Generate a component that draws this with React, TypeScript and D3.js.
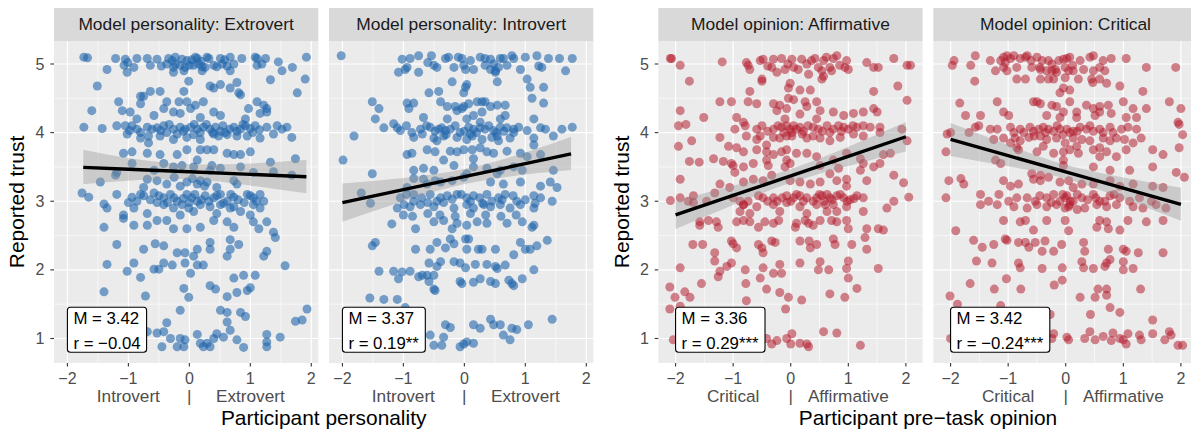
import React, { useRef, useEffect } from 'react';
import * as d3 from 'd3';

const WIDTH = 1191;
const HEIGHT = 432;
const FONT = 'Liberation Sans, Arial, Helvetica, sans-serif';

const panelTitles = [
  'Model personality: Extrovert',
  'Model personality: Introvert',
  'Model opinion: Affirmative',
  'Model opinion: Critical',
];
const meanLabels = ['M = 3.42', 'M = 3.37', 'M = 3.36', 'M = 3.42'];
const corrLabels = ['r = −0.04', 'r = 0.19**', 'r = 0.29***', 'r = −0.24***'];
const xTicks = [-2, -1, 0, 1, 2];
const xMinor = [-1.5, -0.5, 0.5, 1.5];
const yTicks = [1, 2, 3, 4, 5];
const yMinor = [1.5, 2.5, 3.5, 4.5];
const poleLabels = [
  ['Introvert', 'Extrovert'],
  ['Critical', 'Affirmative'],
];
const xTitles = ['Participant personality', 'Participant pre−task opinion'];
const yTitle = 'Reported trust';

// smooth fit: [x, fit, lower, upper]
const fitExtrovert = [
  [-1.74, 3.494, 3.25, 3.75],
  [-1, 3.466, 3.3, 3.63],
  [0, 3.429, 3.32, 3.54],
  [1, 3.391, 3.23, 3.55],
  [1.92, 3.357, 3.115, 3.6],
];
const fitIntrovert = [
  [-2, 2.98, 2.7, 3.26],
  [-1, 3.169, 3.0, 3.34],
  [0, 3.358, 3.25, 3.47],
  [1, 3.548, 3.39, 3.71],
  [1.75, 3.69, 3.455, 3.94],
];
const fitAffirmative = [
  [-2, 2.8, 2.595, 3.005],
  [-1, 3.085, 2.945, 3.225],
  [0, 3.37, 3.27, 3.47],
  [1, 3.655, 3.515, 3.795],
  [2, 3.94, 3.725, 4.155],
];
const fitCritical = [
  [-2, 3.9, 3.66, 4.14],
  [-1, 3.664, 3.51, 3.82],
  [0, 3.428, 3.33, 3.53],
  [1, 3.19, 3.035, 3.345],
  [2, 2.955, 2.715, 3.195],
];

// jittered responses: [participant score, reported trust]
const ptsExtrovert = [
  [-1.73,5.1],[-1.67,5.09],[-1.21,5.08],[-1.05,5.07],[-0.86,5.08],[-0.69,5.08],[-0.53,5.07],[-0.34,5.08],[-0.28,5.05],[-0.23,5.1],[-0.04,5.05],[0.04,5.06],[0.13,5.08],[0.29,5.1],[0.32,5.08],[0.51,5.08],[0.67,5.1],[0.86,5.08],[1.08,5.1],[1.11,5.08],[1.25,5.08],[1.92,5.1],
  [-1.07,4.98],[-1.01,5.02],[-0.91,4.95],[-0.64,4.98],[-0.37,5.0],[-0.26,4.95],[-0.15,4.98],[-0.07,4.95],[0.07,4.98],[0.15,5.0],[0.21,4.96],[0.26,4.95],[0.4,4.98],[0.45,4.96],[0.54,5.0],[0.62,4.97],[0.73,5.0],[1.11,4.98],[1.19,5.0],[1.46,5.03],[1.69,4.95],
  [-0.23,5.0],[-0.12,5.07],[0.0,4.98],[0.1,5.1],[0.19,5.04],[-0.46,4.97],[0.58,5.06],
  [-1.35,4.92],[-1.02,4.88],[-0.26,4.88],[-0.09,4.9],[0.21,4.9],[0.67,4.9],[1.52,4.9],
  [-1.51,4.68],[-0.01,4.75],[0.34,4.68],[0.4,4.65],[0.51,4.7],[0.67,4.65],[0.78,4.73],[1.33,4.77],[1.77,4.58],[1.9,4.78],[0.81,4.58],
  [-0.8,4.53],[-0.75,4.53],[-0.64,4.6],[-0.48,4.6],[-0.37,4.45],[-0.17,4.45],[-0.04,4.45],[-0.09,4.6],[0.1,4.4],[0.23,4.45],[0.84,4.55],[1.11,4.45],[1.22,4.4],[-1.16,4.45],[-0.42,4.35],[0.02,4.35],[0.97,4.35],[1.27,4.35],[-0.8,4.42],
  [-1.6,4.32],[-1.1,4.32],[-0.97,4.3],[-0.86,4.2],[-0.58,4.25],[-0.26,4.3],[-0.15,4.28],[0.18,4.22],[0.4,4.3],[0.51,4.25],[1.16,4.28],[1.27,4.3],[0.92,4.2],
  [-1.73,4.08],[-1.43,4.06],[-1.19,4.1],[-1.05,4.1],[-0.94,4.1],[-0.86,4.05],[-0.69,4.08],[-0.61,4.05],[-0.53,4.07],[-0.42,4.1],[-0.26,4.05],[-0.15,4.08],[-0.07,4.05],[0.02,4.08],[0.13,4.05],[0.23,4.08],[0.34,4.05],[0.43,4.08],[0.51,4.02],[0.59,4.0],[0.73,4.08],[0.84,4.05],[0.92,4.1],[1.0,4.06],[1.08,4.1],[1.27,4.08],[1.44,4.1],[1.6,4.08],[1.52,4.05],
  [-0.47,4.03],[-0.33,4.12],[-0.1,4.02],[0.08,4.12],[0.18,4.0],[0.28,4.12],[0.38,4.0],[0.55,4.1],[0.66,4.05],[0.78,4.02],[0.88,4.12],[1.04,4.0],[1.15,4.04],[-0.8,4.0],[-0.98,4.03],
  [-1.02,3.98],[-0.8,3.92],[-0.67,3.95],[-0.48,3.95],[-0.37,4.0],[-0.2,3.98],[-0.04,3.93],[0.07,3.97],[0.4,3.98],[0.48,3.95],[0.62,3.97],[0.78,3.95],[0.95,3.95],[1.16,3.92],[1.38,3.98],[1.68,3.93],[-0.67,3.85],[-0.26,3.9],[0.18,3.9],
  [-1.08,3.7],[-0.94,3.72],[-0.69,3.7],[-0.48,3.68],[-0.2,3.68],[-0.04,3.75],[0.13,3.6],[0.29,3.75],[0.4,3.75],[0.62,3.7],[0.73,3.68],[1.0,3.72],[1.33,3.57],[1.74,3.62],[0.84,3.68],[0.18,3.75],
  [-0.94,3.55],[-0.42,3.55],[-0.26,3.5],[-0.12,3.52],[0.07,3.5],[0.37,3.52],[0.51,3.48],[0.84,3.5],[1.05,3.42],[1.38,3.43],[1.68,3.38],[-1.19,3.42],[-1.21,3.38],[-0.58,3.45],[0.34,3.45],
  [-1.46,3.28],[-0.69,3.32],[-0.53,3.3],[-0.37,3.25],[-0.15,3.22],[0.18,3.3],[0.13,3.25],[0.29,3.28],[0.73,3.3],[0.78,3.25],[-0.75,3.2],[-0.04,3.28],[0.45,3.2],[0.25,3.22],[0.05,3.33],[-0.25,3.35],
  [-1.76,3.12],[-1.65,3.06],[-1.19,3.1],[-0.94,3.06],[-0.8,3.1],[-0.75,3.08],[-0.58,3.12],[-0.42,3.05],[-0.31,3.1],[-0.2,3.0],[-0.04,3.1],[0.04,3.05],[0.13,3.0],[0.26,3.08],[0.4,3.05],[0.51,3.1],[0.62,3.0],[0.73,3.06],[0.95,3.1],[1.05,3.05],[1.16,3.1],[1.22,3.0],
  [-0.64,3.02],[-0.5,3.08],[-0.36,2.98],[-0.25,3.05],[-0.1,3.04],[0.0,2.98],[0.09,3.1],[0.2,3.02],[0.32,3.0],[0.45,3.08],[0.56,2.97],[0.68,3.1],[0.8,3.02],[0.9,2.98],[1.0,3.08],[1.1,3.0],[-0.86,3.0],[-1.0,2.98],
  [-1.4,2.96],[-1.35,2.9],[-0.91,2.9],[-0.53,2.98],[-0.42,2.95],[-0.26,2.9],[-0.12,2.95],[-0.01,2.9],[0.18,2.95],[0.34,2.92],[0.51,2.95],[0.67,2.9],[0.73,2.92],[1.05,2.95],[1.16,2.9],[-1.08,2.8],[-0.69,2.82],[-0.15,2.8],[0.07,2.85],[0.45,2.82],[0.84,2.85],[1.0,2.8],
  [-1.4,2.62],[-1.08,2.75],[-0.91,2.65],[-0.69,2.65],[-0.53,2.72],[-0.37,2.72],[-0.26,2.6],[-0.04,2.6],[0.18,2.62],[0.4,2.72],[0.62,2.7],[0.73,2.62],[1.05,2.7],[1.14,2.6],[1.27,2.7],[1.38,2.55],
  [-1.19,2.37],[-0.75,2.3],[-0.56,2.38],[-0.42,2.35],[-0.2,2.25],[-0.07,2.25],[0.07,2.2],[0.13,2.3],[0.34,2.3],[0.34,2.4],[0.67,2.3],[0.81,2.37],[0.67,2.44],[1.27,2.27],[1.22,2.2],[1.41,2.47],
  [-1.35,2.08],[-1.02,1.98],[-0.91,2.1],[-0.58,2.01],[-0.5,2.01],[-0.42,2.1],[-0.28,2.07],[-0.07,2.1],[0.02,1.95],[0.13,2.07],[0.23,2.07],[0.62,2.2],[1.57,2.06],
  [-1.4,1.68],[-0.8,1.89],[-0.72,1.62],[-0.09,1.73],[-0.01,1.6],[0.34,1.77],[0.43,1.72],[0.73,1.88],[0.89,1.92],[1.08,1.92],[0.62,1.61],[0.78,1.67],[0.95,1.7],[1.0,1.74],
  [-0.15,1.41],[0.51,1.41],[0.62,1.38],[0.84,1.38],[0.92,1.32],[1.93,1.43],[1.74,1.25],[1.85,1.27],[-0.37,1.23],[0.62,1.24],
  [-0.69,1.1],[-0.53,1.08],[-0.42,1.1],[-0.31,1.0],[-0.15,1.0],[-0.07,0.98],[0.13,1.06],[0.18,0.93],[0.29,0.93],[0.4,1.0],[0.45,1.07],[0.56,1.02],[0.67,1.12],[0.78,0.98],[1.27,1.06],[1.27,0.95],[1.49,1.02],[-0.45,0.88],[-0.2,0.88],[-0.09,0.88],[0.23,0.88],[0.34,0.88],[0.89,0.87],[1.27,0.88],
];

const ptsIntrovert = [
  [-2.02,5.12],[-0.75,5.12],[-0.54,5.12],[-0.26,5.1],[0.26,5.1],[0.34,5.08],[0.59,5.08],[0.78,5.12],[1.0,5.1],[1.19,5.12],[1.38,5.08],[1.56,5.08],[1.77,5.08],[-1.02,5.07],[-0.89,5.08],[-0.31,5.08],[-0.04,5.08],[0.43,5.07],[0.64,5.08],[0.81,5.08],
  [-1.08,4.88],[-0.94,4.95],[-0.75,4.88],[-0.5,4.98],[-0.45,4.95],[-0.17,4.95],[-0.01,4.98],[0.02,4.92],[0.15,4.92],[0.34,4.98],[0.43,4.92],[0.51,4.9],[0.56,4.95],[0.92,4.92],[1.22,4.97],[1.27,4.95],[1.66,4.9],[-0.97,4.92],[0.51,4.88],
  [-0.1,5.1],[0.1,5.05],[0.48,5.0],[0.7,4.98],[-0.6,5.02],
  [-0.2,4.74],[0.04,4.7],[0.02,4.66],[0.54,4.74],[1.03,4.78],[1.08,4.66],[1.3,4.66],[-0.58,4.58],[-0.42,4.6],[-0.01,4.58],
  [-1.51,4.45],[-0.94,4.43],[-0.83,4.43],[-0.39,4.45],[-0.28,4.38],[-0.15,4.38],[-0.01,4.38],[0.07,4.42],[0.21,4.45],[0.29,4.45],[0.34,4.45],[0.43,4.38],[0.54,4.4],[0.67,4.4],[1.11,4.5],[1.3,4.43],[-1.4,4.35],[-0.91,4.35],[-0.12,4.32],[-0.04,4.35],[0.29,4.3],
  [-1.46,4.2],[-1.32,4.07],[-1.16,4.13],[-0.67,4.22],[-0.28,4.2],[0.04,4.2],[0.26,4.15],[0.59,4.2],[0.67,4.25],[1.14,4.2],[0.15,4.25],
  [-1.1,4.07],[-1.05,4.03],[-0.86,4.0],[-0.72,4.05],[-0.56,4.08],[-0.48,4.02],[-0.42,4.05],[-0.37,4.07],[-0.31,4.03],[-0.23,4.05],[-0.07,4.0],[0.07,4.08],[0.15,4.05],[0.26,4.07],[0.34,4.05],[0.48,4.03],[0.59,4.08],[0.7,4.07],[0.81,4.05],[0.89,4.08],[1.03,4.03],[1.25,4.07],[1.33,4.05],[1.6,4.05],[1.77,4.08],[0.81,4.0],
  [-0.62,4.1],[-0.15,4.1],[0.0,4.02],[0.2,4.0],[0.4,4.1],[0.52,4.0],[0.65,4.02],[-0.95,4.1],[-0.3,3.97],[0.1,3.98],
  [-1.81,3.95],[-0.83,3.93],[-0.69,3.98],[-0.5,3.92],[-0.34,3.95],[-0.12,3.93],[0.13,3.95],[0.29,3.9],[0.45,3.93],[0.54,3.95],[0.75,3.92],[1.14,3.92],[1.46,3.95],[-0.45,3.88],[0.04,3.9],[0.56,3.88],[1.14,3.82],
  [-0.94,3.68],[-0.86,3.7],[-0.48,3.72],[-0.23,3.73],[-0.01,3.75],[0.13,3.75],[0.26,3.78],[0.48,3.7],[0.7,3.73],[0.92,3.7],[1.25,3.68],[-0.61,3.75],[-0.12,3.72],[0.37,3.72],[1.03,3.65],[-0.34,3.6],[0.15,3.62],
  [-1.99,3.6],[-1.51,3.4],[-0.83,3.45],[-0.67,3.48],[-0.5,3.45],[-0.17,3.52],[0.15,3.5],[0.37,3.48],[0.59,3.45],[0.81,3.5],[0.95,3.45],[1.46,3.45],[0.04,3.4],[0.54,3.4],
  [-0.83,3.33],[-0.67,3.32],[-0.48,3.3],[-0.39,3.28],[-0.2,3.3],[-0.01,3.35],[0.43,3.28],[0.64,3.25],[0.92,3.28],[1.25,3.22],[1.41,3.28],[1.52,3.2],[-0.94,3.2],[-0.61,3.25],
  [-1.69,3.12],[-0.83,3.1],[-0.56,3.1],[-0.39,3.05],[-0.28,3.08],[-0.12,3.1],[0.04,3.05],[0.15,3.08],[0.37,3.1],[0.56,3.05],[0.67,3.1],[0.86,3.0],[1.14,3.08],[1.25,3.05],[1.44,3.0],[-1.05,3.05],[-0.83,3.0],
  [-0.7,3.05],[-0.45,3.0],[-0.2,3.03],[-0.05,3.1],[0.1,3.0],[0.25,3.05],[0.45,3.0],[0.62,3.02],[0.8,3.08],[1.0,3.02],[-0.95,3.1],[-0.6,2.98],[0.3,2.97],
  [-1.54,2.97],[-1.1,2.9],[-0.99,2.95],[-0.89,2.92],[-0.72,2.95],[-0.5,2.92],[-0.34,2.98],[-0.17,2.9],[0.04,2.95],[0.15,2.9],[0.32,2.95],[0.43,2.92],[0.59,2.95],[0.75,2.9],[0.92,2.95],[1.14,2.9],[1.16,2.97],
  [-1.0,2.8],[-0.85,2.78],[-0.6,2.82],[-0.4,2.8],[-0.15,2.78],[0.1,2.82],[0.35,2.8],[0.6,2.78],[0.85,2.8],
  [-1.19,2.67],[-0.8,2.6],[-0.5,2.7],[-0.34,2.72],[-0.12,2.68],[0.21,2.7],[0.37,2.68],[0.7,2.68],[0.95,2.7],[1.11,2.62],[1.14,2.65],[-0.2,2.6],[0.04,2.65],
  [-1.51,2.35],[-1.46,2.4],[-0.8,2.3],[-0.56,2.3],[-0.45,2.4],[-0.31,2.32],[-0.17,2.38],[0.02,2.45],[0.07,2.45],[0.04,2.3],[0.23,2.3],[0.29,2.3],[0.51,2.3],[0.81,2.22],[0.92,2.4],[1.0,2.3],[1.08,2.3],[1.19,2.35],[1.36,2.43],[-0.23,2.45],
  [-1.4,1.98],[-1.16,1.98],[-1.02,1.97],[-0.89,1.98],[-0.58,2.1],[-0.45,2.05],[-0.39,2.12],[-0.17,2.12],[-0.07,2.1],[0.02,2.03],[0.18,2.08],[0.37,2.08],[0.51,2.05],[0.54,2.02],[0.67,2.07],[1.14,2.0],[-0.75,1.9],[-0.69,1.92],[-0.61,1.92],[-0.5,1.92],
  [-1.08,1.87],[-0.58,1.83],[-0.5,1.72],[-0.48,1.7],[-0.07,1.83],[-0.04,1.8],[0.15,1.82],[0.26,1.87],[0.43,1.83],[0.51,1.8],[0.73,1.85],[0.78,1.8],[0.81,1.77],[0.95,1.87],[-1.55,1.59],[-1.32,1.57],[-1.1,1.57],
  [0.43,1.28],[0.48,1.2],[0.59,1.2],[0.15,1.2],[0.26,1.15],[-0.31,1.2],[-0.23,1.16],[1.05,1.2],[1.44,1.28],[0.78,1.15],[0.86,1.13],[-0.97,1.45],
  [-0.72,1.0],[-0.56,1.05],[-0.5,0.9],[-0.37,0.9],[-0.34,1.02],[-0.07,0.88],[-0.01,0.92],[0.04,0.95],[0.15,0.93],[0.75,0.98],[0.64,1.05],
];

const ptsAffirmative = [
  [-2.09,5.08],[-2.07,5.08],[-1.92,4.98],[-1.19,5.03],[-0.77,5.02],[-0.53,5.05],[-0.48,5.07],[-0.3,5.07],[-0.16,5.08],[0.02,5.07],[0.19,5.07],[0.42,5.08],[0.57,5.05],[0.74,5.08],[0.8,5.12],[0.97,5.05],[1.32,5.02],[1.79,5.08],[2.02,4.98],[2.08,4.98],
  [-0.74,4.98],[-0.71,4.92],[-0.33,4.95],[-0.24,4.88],[-0.1,4.92],[0.05,4.95],[0.13,4.92],[0.28,5.0],[0.48,4.95],[0.54,4.9],[0.68,4.95],[0.71,4.9],[0.94,4.95],[1.0,4.92],[1.44,4.95],[1.52,4.95],[0.31,4.85],[0.57,4.82],
  [-0.4,4.97],[-0.05,5.0],[0.36,5.05],[0.62,5.1],[0.85,4.98],
  [-1.76,4.75],[-0.5,4.75],[-0.01,4.72],[-0.04,4.65],[0.16,4.62],[0.34,4.62],[0.54,4.78],[1.44,4.6],[1.86,4.68],[-0.71,4.6],[-0.5,4.78],
  [-1.23,4.45],[-1.03,4.45],[-0.74,4.45],[-0.59,4.42],[-0.3,4.42],[-0.19,4.4],[-0.04,4.5],[0.05,4.48],[0.25,4.45],[0.28,4.38],[0.45,4.45],[2.02,4.47],[1.44,4.35],[-0.24,4.32],[-0.07,4.35],[0.51,4.32],
  [-1.92,4.32],[-1.51,4.22],[-0.94,4.22],[-0.82,4.15],[0.16,4.27],[0.45,4.2],[0.74,4.3],[0.92,4.25],[1.09,4.28],[1.26,4.3],[1.5,4.3],[-1.95,4.1],[-1.82,4.12],[-0.1,4.2],
  [-0.97,4.05],[-0.79,4.1],[-0.59,4.05],[-0.5,4.1],[-0.3,4.05],[-0.16,4.08],[-0.07,4.1],[-0.01,4.05],[0.05,4.1],[0.1,4.05],[0.16,4.08],[0.39,4.08],[0.48,4.05],[0.63,4.1],[0.74,4.05],[0.83,4.1],[0.92,4.08],[1.0,4.05],[1.15,4.08],[1.26,4.1],[1.38,4.08],[1.55,4.08],[1.93,4.05],[1.55,4.0],
  [-0.4,4.02],[-0.22,4.1],[0.02,4.0],[0.22,4.02],[0.3,4.1],[0.55,4.02],[0.68,4.0],[0.88,4.02],[1.08,4.1],[-0.12,4.0],[0.2,3.98],
  [-1.95,3.8],[-1.72,3.88],[-1.23,3.93],[-1.08,3.8],[-0.94,3.78],[-0.77,3.95],[-0.53,3.95],[-0.42,3.82],[-0.3,3.93],[-0.19,3.92],[-0.07,3.95],[0.02,3.95],[0.28,3.92],[0.39,3.95],[0.51,3.92],[0.68,3.88],[0.86,3.93],[1.09,3.98],[1.26,3.95],[2.02,3.88],[-0.59,3.9],
  [-1.0,3.52],[-0.82,3.72],[-0.59,3.75],[-0.42,3.72],[-0.3,3.68],[-0.16,3.72],[-0.07,3.75],[0.1,3.7],[0.28,3.7],[0.45,3.65],[0.74,3.6],[0.97,3.7],[1.21,3.62],[1.61,3.68],[1.73,3.7],[1.55,3.55],[-0.42,3.6],[-0.07,3.6],
  [-1.76,3.58],[-1.59,3.57],[-1.34,3.62],[-1.17,3.58],[-1.03,3.55],[-0.82,3.5],[-0.65,3.55],[-0.39,3.52],[-0.1,3.5],[-0.01,3.55],[0.51,3.52],[0.68,3.4],[0.83,3.48],[1.26,3.55],[1.44,3.5],[1.21,3.45],[-0.97,3.42],
  [-1.92,3.32],[-1.23,3.25],[-1.06,3.2],[-0.82,3.28],[-0.65,3.32],[-0.48,3.3],[-0.33,3.38],[-0.01,3.3],[0.16,3.28],[0.34,3.25],[0.51,3.28],[0.8,3.3],[0.97,3.32],[1.32,3.3],[1.79,3.38],[1.96,3.27],[-1.32,3.12],[0.97,3.22],
  [-2.09,3.01],[-1.92,3.05],[-1.78,3.0],[-1.69,3.08],[-1.46,3.0],[-1.0,3.05],[-0.88,3.0],[-0.82,2.95],[-0.74,3.0],[-0.56,3.08],[-0.48,3.05],[-0.3,3.05],[-0.24,3.0],[-0.07,3.08],[0.05,3.05],[0.16,3.08],[0.28,3.05],[0.39,3.0],[0.54,3.08],[0.63,3.1],[0.68,3.05],[0.8,3.08],[0.92,3.05],[1.03,3.02],[1.15,3.08],[1.26,3.05],[1.79,3.0],[2.05,3.06],
  [-0.4,3.0],[-0.15,3.05],[0.0,3.0],[0.1,3.1],[0.22,3.0],[0.45,3.05],[0.58,3.0],[0.72,3.02],[0.86,3.1],[0.98,3.0],[1.1,3.04],[0.6,2.95],[0.5,3.1],
  [-1.69,2.98],[-0.82,2.95],[-0.59,2.92],[-0.3,2.95],[-0.07,2.98],[0.16,2.92],[0.45,2.95],[0.74,2.95],[0.97,2.92],[1.26,2.85],[-0.88,2.85],[-0.71,2.82],[-0.19,2.85],[0.28,2.82],[0.63,2.85],[0.8,2.85],[1.67,2.9],
  [-1.58,2.7],[-1.43,2.72],[-1.29,2.7],[-1.58,2.65],[-1.26,2.62],[-0.94,2.7],[-0.82,2.72],[-0.71,2.7],[-0.56,2.62],[-0.45,2.7],[-0.3,2.68],[-0.21,2.72],[0.08,2.62],[0.1,2.68],[0.25,2.72],[0.31,2.68],[0.39,2.65],[0.51,2.72],[0.71,2.72],[0.8,2.7],[0.97,2.72],[1.0,2.6],[1.32,2.6],[1.52,2.6],[1.61,2.58],
  [-1.7,2.37],[-1.53,2.37],[-1.32,2.25],[-1.03,2.42],[-1.0,2.38],[-0.94,2.32],[-0.56,2.37],[-0.5,2.32],[-0.48,2.25],[-0.33,2.42],[-0.27,2.4],[0.16,2.42],[0.32,2.42],[0.34,2.32],[0.45,2.37],[0.74,2.45],[0.77,2.37],[1.06,2.37],[1.29,2.47],[1.32,2.3],
  [-1.92,2.03],[-1.32,2.13],[-1.23,1.98],[-1.11,2.05],[-1.03,2.1],[-0.79,2.0],[-0.48,2.03],[-0.3,1.95],[-0.19,2.08],[-0.16,1.95],[0.16,2.1],[0.51,2.12],[0.48,2.0],[0.66,2.0],[0.97,2.02],[1.0,2.13],[1.52,2.02],[-1.26,1.9],
  [-2.1,1.75],[-1.84,1.68],[-1.75,1.6],[-2.01,1.6],[-1.55,1.8],[-0.78,1.8],[-0.77,1.55],[-0.42,1.72],[-0.19,1.67],[-0.04,1.6],[0.19,1.56],[0.68,1.65],[0.94,1.6],[1.0,1.88],[1.15,1.73],[-0.53,1.88],
  [-2.1,1.43],[-0.09,1.43],[-1.92,1.47],
  [-2.04,0.98],[-0.33,0.92],[-0.24,0.97],[-0.07,1.0],[0.02,1.07],[0.0,0.92],[0.16,0.93],[0.28,0.92],[0.31,0.88],[0.57,1.1],[0.8,1.08],[1.21,0.9],[-0.65,0.98],[-0.42,1.0],[-0.88,0.95],
];

const ptsCritical = [
  [-1.94,5.05],[-1.57,5.12],[-1.31,5.05],[-1.13,5.05],[-1.08,5.1],[-1.02,5.12],[-0.96,5.08],[-0.79,5.08],[-0.7,5.1],[-0.67,5.12],[-0.5,5.1],[-0.41,5.05],[-0.3,5.05],[-0.24,5.0],[-0.04,5.07],[0.02,5.08],[0.07,5.1],[0.25,5.05],[0.42,5.1],[0.48,5.12],[0.65,5.05],[0.79,5.08],[1.05,5.08],
  [-1.97,4.98],[-1.65,4.98],[-1.22,4.9],[-1.08,4.95],[-1.02,4.9],[-0.85,4.95],[-0.59,4.95],[-0.44,4.92],[-0.33,4.9],[-0.24,4.9],[-0.18,4.92],[-0.16,4.88],[-0.01,4.95],[0.05,4.9],[0.13,4.9],[0.31,4.92],[0.48,4.9],[0.59,4.95],[0.68,4.9],[1.4,4.95],[1.91,4.95],
  [-1.05,5.02],[-0.9,5.12],[-0.6,5.05],[-0.45,4.95],[-0.12,5.05],[0.12,4.98],
  [-1.58,4.75],[-0.85,4.78],[-0.7,4.78],[-0.44,4.78],[-0.3,4.78],[-0.21,4.78],[-0.01,4.8],[0.22,4.78],[0.45,4.78],[0.59,4.78],[0.71,4.72],[0.47,4.73],[0.94,4.68],[1.34,4.6],
  [-0.04,4.65],[-0.1,4.58],[0.07,4.62],[-0.56,4.45],[-0.44,4.42],
  [-1.84,4.43],[-1.19,4.45],[-0.5,4.45],[-0.24,4.4],[-0.16,4.38],[0.07,4.45],[0.36,4.4],[0.48,4.35],[0.59,4.38],[0.74,4.4],[1.0,4.45],[1.17,4.35],[1.4,4.35],[1.8,4.45],[2.0,4.35],[0.79,4.28],
  [-1.74,4.25],[-1.48,4.25],[-1.08,4.3],[-0.99,4.25],[-0.33,4.25],[-0.1,4.22],[-0.04,4.3],[0.19,4.3],[0.19,4.22],[0.51,4.25],[0.59,4.3],[1.05,4.22],[1.23,4.22],[1.95,4.15],[1.97,4.12],
  [-1.57,4.08],[-1.51,4.1],[-1.31,4.05],[-1.19,4.05],[-0.96,4.08],[-0.79,4.05],[-0.73,4.0],[-0.56,4.02],[-0.47,4.05],[-0.39,4.08],[-0.3,4.05],[-0.21,4.02],[-0.1,4.05],[0.02,4.05],[0.13,4.02],[0.25,4.08],[0.36,4.05],[0.48,4.02],[0.59,4.05],[0.77,4.08],[0.82,4.0],[0.97,4.05],[1.08,4.08],[1.23,4.05],[-2.06,3.98],[-2.0,4.0],[-1.68,4.0],[2.03,3.97],
  [-0.9,4.0],[-0.62,4.08],[-0.35,4.0],[-0.15,4.1],[0.07,4.0],[0.2,4.02],[0.42,4.1],[0.65,4.0],[-0.05,3.97],[-0.55,3.95],
  [-1.25,3.9],[-1.08,3.92],[-0.96,3.85],[-0.88,3.92],[-0.79,3.88],[-0.64,3.93],[-0.44,3.95],[-0.33,3.9],[-0.16,3.92],[-0.01,3.85],[0.13,3.92],[0.28,3.9],[0.42,3.88],[0.65,3.92],[0.77,3.88],[0.88,3.92],[1.02,3.9],[1.17,3.85],[1.31,3.92],[1.97,3.78],[-0.85,3.78],[-0.39,3.8],[0.19,3.8],[0.59,3.78],
  [-2.08,3.72],[-0.82,3.75],[-0.5,3.72],[-0.21,3.7],[-0.04,3.72],[0.07,3.75],[0.22,3.7],[0.48,3.75],[0.71,3.72],[1.05,3.75],[1.51,3.75],[1.69,3.68],[0.59,3.65],[0.88,3.65],[-1.22,3.6],[-0.04,3.6],
  [-0.04,3.52],[0.48,3.5],[1.11,3.45],[1.51,3.5],[0.77,3.45],[1.92,3.42],[2.06,3.35],[-1.13,3.55],[-0.59,3.4],[-0.44,3.38],
  [-2.03,3.3],[-1.82,3.33],[-1.77,3.25],[-1.08,3.3],[-0.96,3.22],[-0.82,3.25],[-0.56,3.32],[-0.44,3.3],[-0.3,3.35],[-0.1,3.28],[0.05,3.3],[0.13,3.2],[0.28,3.25],[0.48,3.25],[0.77,3.3],[0.94,3.22],[1.17,3.25],[1.51,3.22],[1.69,3.2],
  [-2.08,3.05],[-1.48,3.1],[-1.34,3.0],[-1.16,3.1],[-0.99,3.0],[-0.85,3.05],[-0.67,3.05],[-0.53,3.0],[-0.33,3.05],[-0.21,3.1],[-0.1,3.0],[-0.01,3.05],[0.02,3.08],[0.13,3.0],[0.28,3.05],[0.48,3.1],[0.59,3.0],[0.77,3.08],[0.94,3.05],[1.11,3.0],[1.28,3.05],[1.49,3.0],
  [-0.45,3.08],[-0.25,2.98],[-0.05,3.1],[0.08,3.0],[0.2,3.1],[0.38,3.02],[0.52,3.05],[0.68,3.0],[0.84,3.1],[0.05,2.92],[0.2,2.88],
  [-1.48,2.95],[-1.19,2.95],[-0.9,2.92],[-0.67,2.9],[-0.5,2.95],[-0.33,2.92],[-0.16,2.95],[-0.01,2.9],[0.07,2.95],[0.33,2.9],[0.54,2.95],[0.71,2.92],[0.88,2.95],[1.17,2.92],[1.34,2.9],[1.57,2.95],[1.74,2.9],
  [-1.91,2.57],[-1.08,2.72],[-0.79,2.7],[-0.7,2.72],[-0.56,2.58],[-0.33,2.72],[-0.01,2.72],[0.05,2.57],[0.54,2.62],[0.71,2.7],[0.74,2.6],[0.94,2.58],[1.08,2.72],[1.4,2.7],[1.69,2.72],[0.59,2.72],
  [-1.6,2.43],[-1.45,2.33],[-1.25,2.37],[-1.02,2.43],[-0.82,2.4],[-0.7,2.4],[-0.53,2.4],[-0.64,2.33],[-0.36,2.42],[-0.41,2.27],[-0.21,2.27],[-0.07,2.37],[0.31,2.4],[0.33,2.27],[0.74,2.3],[1.0,2.3],[1.05,2.27],[1.26,2.25],[1.69,2.25],[-1.05,2.45],
  [-1.55,2.13],[-1.28,2.1],[-0.82,2.1],[-0.79,2.03],[-0.41,2.02],[-0.06,2.03],[0.28,2.12],[0.31,2.03],[0.48,2.02],[0.68,2.05],[0.71,2.1],[0.77,2.15],[1.0,2.12],[1.0,2.0],[1.17,2.02],
  [-1.66,1.8],[-1.24,1.72],[-1.03,1.87],[-0.78,1.72],[-0.2,1.78],[-0.06,1.85],[0.56,1.72],[0.71,1.72],[0.71,1.63],[1.3,1.72],[0.25,1.6],[0.51,1.6],[-2.01,1.62],[-1.88,1.5],
  [-1.13,1.48],[0.77,1.45],[0.94,1.38],[0.43,1.35],[1.51,1.27],[-0.27,1.35],
  [-0.21,1.07],[0.02,1.02],[0.05,0.98],[0.33,1.0],[0.51,0.98],[0.65,1.03],[0.79,0.97],[0.82,1.08],[0.94,1.0],[1.0,0.98],[1.05,0.92],[1.08,1.07],[1.28,1.05],[1.31,0.98],[1.51,1.07],[1.72,0.98],[1.8,1.1],[1.83,1.05],[1.95,0.9],[2.03,0.9],[0.42,1.1],[-0.24,1.0],[-2.0,1.0],
];

const BLUE = '#2166AC';
const RED = '#B2182B';

const STRIP_TOP = 8;
const PANEL_TOP = 41;
const PANEL_BOTTOM = 363;
const PANEL_W = 264.3;
const panelLefts = [54, 329, 658.3, 933.3];
const groupDomains = [
  [-2.22, 2.115],
  [-2.3, 2.29],
];
const yDomain = [0.643, 5.335];

const App = () => {
  const svgRef = useRef<SVGSVGElement>(null);

  useEffect(() => {
    if (!svgRef.current) return;
    const svg = d3.select(svgRef.current);
    svg.selectAll('*').remove();

    const y = d3.scaleLinear().domain(yDomain).range([PANEL_BOTTOM, PANEL_TOP]);

    const panels = [
      { pts: ptsExtrovert, fit: fitExtrovert, group: 0, color: BLUE, opacity: 0.6 },
      { pts: ptsIntrovert, fit: fitIntrovert, group: 0, color: BLUE, opacity: 0.6 },
      { pts: ptsAffirmative, fit: fitAffirmative, group: 1, color: RED, opacity: 0.52 },
      { pts: ptsCritical, fit: fitCritical, group: 1, color: RED, opacity: 0.52 },
    ];

    const defs = svg.append('defs');

    panels.forEach((p, i) => {
      const left = panelLefts[i];
      const x = d3.scaleLinear().domain(groupDomains[p.group]).range([left, left + PANEL_W]);
      const g = svg.append('g');

      defs
        .append('clipPath')
        .attr('id', `clip${i}`)
        .append('rect')
        .attr('x', left)
        .attr('y', PANEL_TOP)
        .attr('width', PANEL_W)
        .attr('height', PANEL_BOTTOM - PANEL_TOP);

      // strip
      g.append('rect')
        .attr('x', left)
        .attr('y', STRIP_TOP)
        .attr('width', PANEL_W)
        .attr('height', PANEL_TOP - STRIP_TOP)
        .attr('fill', '#D9D9D9');
      g.append('text')
        .attr('x', left + PANEL_W / 2)
        .attr('y', 30)
        .attr('text-anchor', 'middle')
        .attr('font-family', FONT)
        .attr('font-size', '17.4px')
        .attr('fill', '#1A1A1A')
        .text(panelTitles[i]);

      // panel background + grid
      g.append('rect')
        .attr('x', left)
        .attr('y', PANEL_TOP)
        .attr('width', PANEL_W)
        .attr('height', PANEL_BOTTOM - PANEL_TOP)
        .attr('fill', '#EBEBEB');

      const grid = g.append('g').attr('stroke', '#FFFFFF');
      grid.selectAll('.vmin').data(xMinor).join('line')
        .attr('x1', (d) => x(d)).attr('x2', (d) => x(d))
        .attr('y1', PANEL_TOP).attr('y2', PANEL_BOTTOM)
        .attr('stroke-width', 0.6);
      grid.selectAll('.hmin').data(yMinor).join('line')
        .attr('x1', left).attr('x2', left + PANEL_W)
        .attr('y1', (d) => y(d)).attr('y2', (d) => y(d))
        .attr('stroke-width', 0.6);
      grid.selectAll('.vmaj').data(xTicks).join('line')
        .attr('x1', (d) => x(d)).attr('x2', (d) => x(d))
        .attr('y1', PANEL_TOP).attr('y2', PANEL_BOTTOM)
        .attr('stroke-width', 1.2);
      grid.selectAll('.hmaj').data(yTicks).join('line')
        .attr('x1', left).attr('x2', left + PANEL_W)
        .attr('y1', (d) => y(d)).attr('y2', (d) => y(d))
        .attr('stroke-width', 1.2);

      const plot = g.append('g').attr('clip-path', `url(#clip${i})`);

      // points
      plot.append('g')
        .selectAll('circle')
        .data(p.pts)
        .join('circle')
        .attr('cx', (d) => x(d[0]))
        .attr('cy', (d) => y(d[1]))
        .attr('r', 4.5)
        .attr('fill', p.color)
        .attr('fill-opacity', p.opacity);

      // confidence band + fitted line
      const band = d3.area<number[]>()
        .x((d) => x(d[0]))
        .y0((d) => y(d[2]))
        .y1((d) => y(d[3]))
        .curve(d3.curveNatural);
      plot.append('path')
        .attr('d', band(p.fit) ?? '')
        .attr('fill', '#999999')
        .attr('fill-opacity', 0.4);
      const line = d3.line<number[]>()
        .x((d) => x(d[0]))
        .y((d) => y(d[1]));
      plot.append('path')
        .attr('d', line(p.fit) ?? '')
        .attr('fill', 'none')
        .attr('stroke', '#000000')
        .attr('stroke-width', 3.4);

      // x axis
      const ax = g.append('g');
      ax.selectAll('line').data(xTicks).join('line')
        .attr('x1', (d) => x(d)).attr('x2', (d) => x(d))
        .attr('y1', PANEL_BOTTOM).attr('y2', PANEL_BOTTOM + 3.6)
        .attr('stroke', '#333333').attr('stroke-width', 1.1);
      ax.selectAll('text').data(xTicks).join('text')
        .attr('x', (d) => x(d))
        .attr('y', 384)
        .attr('text-anchor', 'middle')
        .attr('font-family', FONT)
        .attr('font-size', '16px')
        .attr('fill', '#4D4D4D')
        .text((d) => (d < 0 ? `−${Math.abs(d)}` : `${d}`));

      const poles = [
        { v: -1, t: poleLabels[p.group][0] },
        { v: 0, t: '|' },
        { v: 1, t: poleLabels[p.group][1] },
      ];
      g.append('g').selectAll('text').data(poles).join('text')
        .attr('x', (d) => x(d.v))
        .attr('y', 401.5)
        .attr('text-anchor', 'middle')
        .attr('font-family', FONT)
        .attr('font-size', '17.2px')
        .attr('fill', '#4D4D4D')
        .text((d) => d.t);

      // y axis on first panel of each group
      if (i % 2 === 0) {
        const ay = g.append('g');
        ay.selectAll('line').data(yTicks).join('line')
          .attr('x1', left - 3.6).attr('x2', left)
          .attr('y1', (d) => y(d)).attr('y2', (d) => y(d))
          .attr('stroke', '#333333').attr('stroke-width', 1.1);
        ay.selectAll('text').data(yTicks).join('text')
          .attr('x', left - 9.5)
          .attr('y', (d) => y(d) + 5.6)
          .attr('text-anchor', 'end')
          .attr('font-family', FONT)
          .attr('font-size', '16px')
          .attr('fill', '#4D4D4D')
          .text((d) => `${d}`);
        g.append('text')
          .attr('transform', `translate(${left - 29.8},${(PANEL_TOP + PANEL_BOTTOM) / 2}) rotate(-90)`)
          .attr('text-anchor', 'middle')
          .attr('font-family', FONT)
          .attr('font-size', '20.9px')
          .attr('fill', '#000000')
          .text(yTitle);
        g.append('text')
          .attr('x', (left + panelLefts[i + 1] + PANEL_W) / 2)
          .attr('y', 425)
          .attr('text-anchor', 'middle')
          .attr('font-family', FONT)
          .attr('font-size', '20.9px')
          .attr('fill', '#000000')
          .text(xTitles[p.group]);
      }

      // label box
      const lab = g.append('g');
      const bx = x(-2);
      const rect = lab.append('rect');
      const txt = lab.append('text')
        .attr('font-family', FONT)
        .attr('font-size', '16.8px')
        .attr('fill', '#000000');
      txt.append('tspan').attr('x', bx + 6).attr('y', 324).text(meanLabels[i]);
      txt.append('tspan').attr('x', bx + 6).attr('y', 348.5).text(corrLabels[i]);
      const bb = (txt.node() as SVGTextElement).getBBox();
      rect
        .attr('x', bx)
        .attr('y', 307.3)
        .attr('width', bb.width + 12)
        .attr('height', 45)
        .attr('rx', 3)
        .attr('fill', '#FFFFFF')
        .attr('stroke', '#000000')
        .attr('stroke-width', 1.1);
    });
  }, []);

  return (
    <svg
      ref={svgRef}
      width={WIDTH}
      height={HEIGHT}
      style={{ position: 'absolute', left: 0, top: 0, background: '#FFFFFF' }}
    />
  );
};

export default App;
